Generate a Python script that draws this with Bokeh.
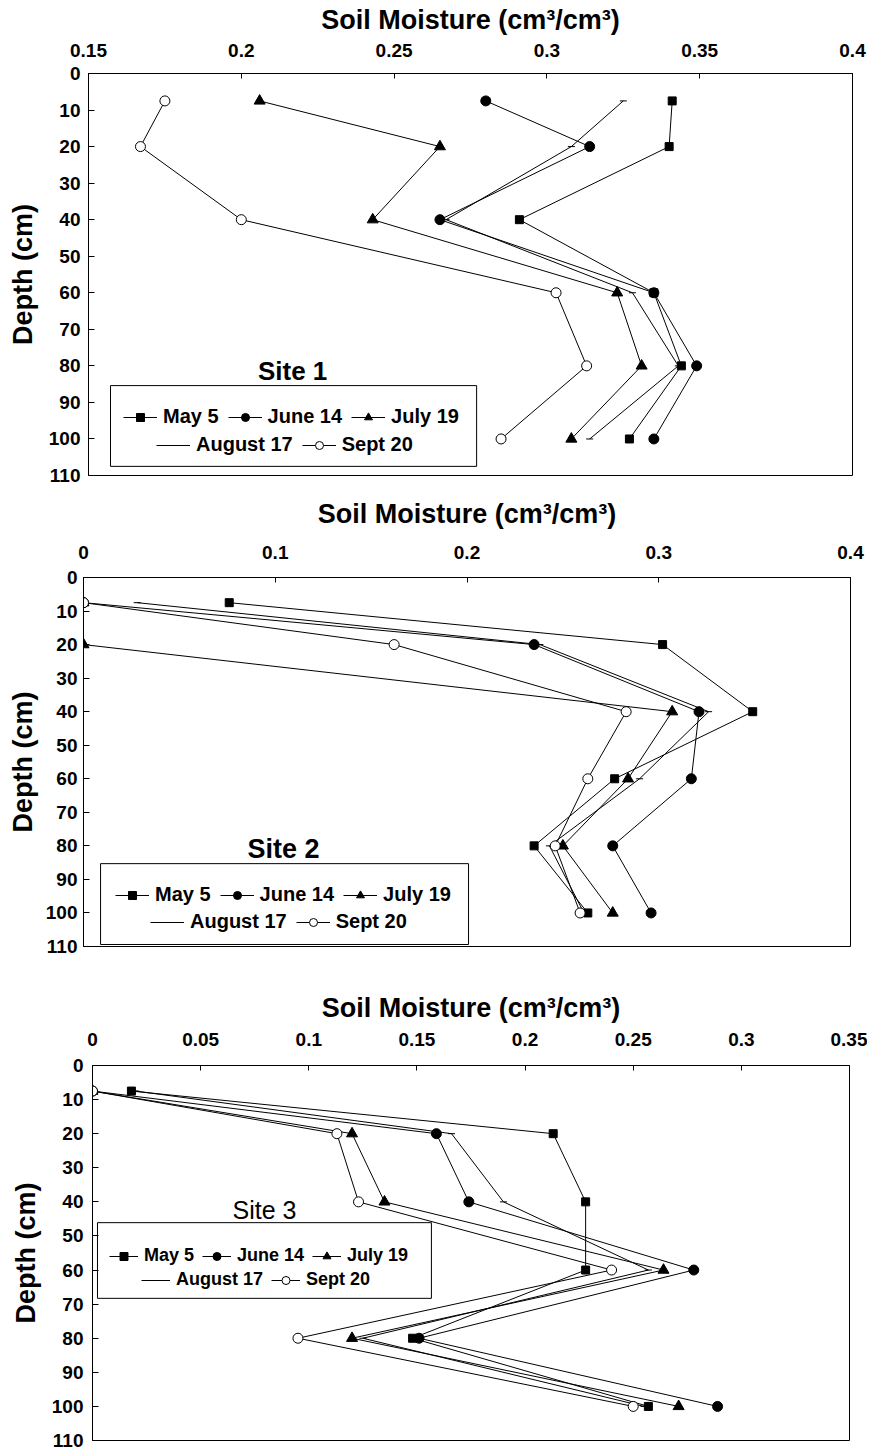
from bokeh.plotting import figure
from bokeh.models import Range1d, FixedTicker, Legend, LegendItem, BoxAnnotation, Label
from bokeh.layouts import column, row
from bokeh.embed import file_html
from bokeh.resources import INLINE

# ---------------- data ----------------
depth_cm = [7.5, 20, 40, 60, 80, 100]
series_names = ["May 5", "June 14", "July 19", "August 17", "Sept 20"]

site1_may5 = [0.341, 0.340, 0.291, 0.335, 0.344, 0.327]
site1_june14 = [0.280, 0.314, 0.265, 0.335, 0.349, 0.335]
site1_july19 = [0.206, 0.265, 0.243, 0.323, 0.331, 0.308]
site1_aug17 = [0.325, 0.308, 0.267, 0.328, 0.343, 0.314]
site1_sept20 = [0.175, 0.167, 0.200, 0.303, 0.313, 0.285]

site2_may5 = [0.076, 0.302, 0.349, 0.277, 0.235, 0.263]
site2_june14 = [0.000, 0.235, 0.321, 0.317, 0.276, 0.296]
site2_july19 = [0.000, 0.000, 0.307, 0.284, 0.250, 0.276]
site2_aug17 = [0.028, 0.238, 0.326, 0.290, 0.243, 0.261]
site2_sept20 = [0.000, 0.162, 0.283, 0.263, 0.246, 0.259]

site3_may5 = [0.018, 0.213, 0.228, 0.228, 0.148, 0.257]
site3_june14 = [0.000, 0.159, 0.174, 0.278, 0.151, 0.289]
site3_july19 = [0.000, 0.120, 0.135, 0.264, 0.120, 0.271]
site3_aug17 = [0.020, 0.166, 0.190, 0.257, 0.125, 0.255]
site3_sept20 = [0.000, 0.113, 0.123, 0.240, 0.095, 0.250]

x_ticks_site1 = [0.15, 0.2, 0.25, 0.3, 0.35, 0.4]
x_labels_site1 = ["0.15", "0.2", "0.25", "0.3", "0.35", "0.4"]
x_ticks_site2 = [0, 0.1, 0.2, 0.3, 0.4]
x_labels_site2 = ["0", "0.1", "0.2", "0.3", "0.4"]
x_ticks_site3 = [0, 0.05, 0.1, 0.15, 0.2, 0.25, 0.3, 0.35]
x_labels_site3 = ["0", "0.05", "0.1", "0.15", "0.2", "0.25", "0.3", "0.35"]
depth_ticks = [0, 10, 20, 30, 40, 50, 60, 70, 80, 90, 100, 110]

site_titles = ["Site 1", "Site 2", "Site 3"]
x_title = "Soil Moisture (cm\u00b3/cm\u00b3)"
y_title = "Depth (cm)"

# ---------------- styles ----------------
FONT = "Liberation Sans"
marker_styles = {
    "May 5": dict(marker="square", size=8, fill_color="black"),
    "June 14": dict(marker="circle", size=10, fill_color="black"),
    "July 19": dict(marker="triangle", size=11, fill_color="black"),
    "August 17": dict(marker="dash", size=7, fill_color="black"),
    "Sept 20": dict(marker="circle", size=10, fill_color="white"),
}


def style_axis(ax, title, title_size, s1, s2, tick_in):
    ax.axis_label = title
    ax.axis_label_text_font = FONT
    ax.axis_label_text_font_style = "bold"
    ax.axis_label_text_font_size = title_size
    ax.axis_label_text_color = "black"
    ax.axis_label_standoff = s2
    ax.major_label_standoff = s1
    ax.major_label_text_font = FONT
    ax.major_label_text_font_style = "bold"
    ax.major_label_text_font_size = "19px"
    ax.major_label_text_color = "black"
    ax.major_tick_in = tick_in
    ax.major_tick_out = 0
    ax.minor_tick_in = 0
    ax.minor_tick_out = 0
    ax.axis_line_color = "black"
    ax.major_tick_line_color = "black"


def make_panel(values, xr, xticks, xlabels, site, geo):
    p = figure(width=geo["W"], height=geo["H"], x_range=Range1d(*xr), y_range=Range1d(110, 0),
               x_axis_location="above", output_backend="svg", toolbar_location=None,
               min_border_left=geo["L"], min_border_right=geo["R"],
               min_border_top=geo["T"], min_border_bottom=geo["B"])
    p.xgrid.visible = False
    p.ygrid.visible = False
    p.outline_line_color = "black"
    p.outline_line_width = 1
    p.outline_line_alpha = 1

    xa = p.xaxis[0]
    xa.ticker = FixedTicker(ticks=xticks)
    xa.major_label_overrides = dict(zip(xticks, xlabels))
    style_axis(xa, x_title, "27px", geo["x_s1"], geo["x_s2"], 5)

    ya = p.yaxis[0]
    ya.ticker = FixedTicker(ticks=depth_ticks)
    style_axis(ya, y_title, "27px", geo["y_s1"], geo["y_s2"], 6)

    items = []
    for name, xs in zip(series_names, values):
        st = marker_styles[name]
        lr = p.line(xs, depth_cm, line_color="black", line_width=1)
        sr = p.scatter(xs, depth_cm, marker=st["marker"], size=st["size"],
                       fill_color=st["fill_color"], line_color="black", line_width=1)
        items.append(LegendItem(label=name, renderers=[lr, sr]))

    common = dict(orientation="horizontal", border_line_color=None, background_fill_alpha=0,
                  label_text_font=FONT, label_text_font_size=geo["leg_fs"],
                  label_text_font_style="bold", label_text_color="black",
                  glyph_width=geo["glyph_w"], glyph_height=20, label_standoff=6,
                  spacing=geo["leg_sp"], padding=2, margin=0)
    leg1 = Legend(items=items[:3], location=geo["row1"], **common)
    leg2 = Legend(items=items[3:], location=geo["row2"], **common)
    p.add_layout(leg1, "center")
    p.add_layout(leg2, "center")

    bl, br, bt, bb = geo["box"]
    p.add_layout(BoxAnnotation(left=bl, right=br, top=bt, bottom=bb, fill_color=None,
                               line_color="black", line_width=1, line_alpha=1))
    sx, sy = geo["site_xy"]
    p.add_layout(Label(x=sx, y=sy, text=site, text_align="center", text_baseline="middle",
                       text_font=FONT, text_font_size=geo["site_fs"],
                       text_font_style=geo["site_style"], text_color="black"))
    return p


geo1 = dict(W=870, H=495, T=73, B=20, L=88, R=18, x_s1=17, x_s2=6, y_s1=8, y_s2=8,
            leg_fs="20px", glyph_w=34, leg_sp=9,
            row1=(35, 47), row2=(68, 19), box=(0.1572, 0.277, 85.4, 107.5),
            site_xy=(0.2168, 81.3), site_fs="26px", site_style="bold")
geo2 = dict(W=868, H=494, T=81, B=43, L=83, R=18, x_s1=19, x_s2=14, y_s1=6, y_s2=5,
            leg_fs="20px", glyph_w=34, leg_sp=9,
            row1=(32, 40), row2=(67, 13), box=(0.0089, 0.2008, 85.3, 109.4),
            site_xy=(0.1043, 80.9), site_fs="27px", site_style="bold")
geo3 = dict(W=867, H=462, T=76, B=11, L=92, R=18, x_s1=20, x_s2=7, y_s1=9, y_s2=8,
            leg_fs="18px", glyph_w=29, leg_sp=8,
            row1=(17, 174), row2=(49, 150), box=(0.0023, 0.1567, 46.1, 68.3),
            site_xy=(0.0795, 42.3), site_fs="25px", site_style="normal")

p1 = make_panel([site1_may5, site1_june14, site1_july19, site1_aug17, site1_sept20],
                (0.15, 0.4), x_ticks_site1, x_labels_site1, site_titles[0], geo1)
p2 = make_panel([site2_may5, site2_june14, site2_july19, site2_aug17, site2_sept20],
                (0.0, 0.4), x_ticks_site2, x_labels_site2, site_titles[1], geo2)
p3 = make_panel([site3_may5, site3_june14, site3_july19, site3_aug17, site3_sept20],
                (0.0, 0.35), x_ticks_site3, x_labels_site3, site_titles[2], geo3)

layout = column(row(p1), row(p2), row(p3), spacing=0)
open("out.html", "w").write(file_html(layout, INLINE))
